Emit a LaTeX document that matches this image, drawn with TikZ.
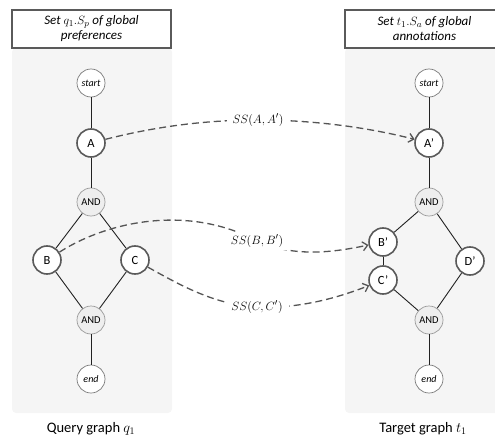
\documentclass[tikz,border=0pt]{standalone}
\usepackage{fontspec}
\setmainfont{Carlito}
\usetikzlibrary{arrows.meta}
\definecolor{panelfill}{HTML}{F5F5F5}
\definecolor{strongline}{HTML}{5A5A5A}
\definecolor{thinline}{HTML}{7A7A7A}
\definecolor{gatefill}{HTML}{EEEEEE}
\definecolor{gateline}{HTML}{9A9A9A}
\definecolor{linkcol}{HTML}{555555}
\definecolor{edgecol}{HTML}{222222}
\tikzset{
  panelbox/.style={fill=panelfill, rounded corners=4pt},
  headbox/.style={draw=strongline, fill=white, line width=1.5pt},
  headtext/.style={align=center, font=\itshape\fontsize{13}{15}\selectfont},
  actnode/.style={circle, draw=strongline, line width=1.6pt, fill=white, minimum size=28pt, inner sep=0pt, font=\fontsize{12.5}{14}\selectfont},
  termnode/.style={circle, draw=thinline, line width=0.7pt, fill=white, minimum size=28pt, inner sep=0pt, font=\itshape\fontsize{10}{12}\selectfont},
  gatenode/.style={circle, draw=gateline, line width=0.7pt, fill=gatefill, minimum size=28pt, inner sep=0pt, font=\fontsize{10.5}{12}\selectfont},
  edge/.style={draw=edgecol, line width=0.9pt},
  link/.style={draw=linkcol, line width=1.3pt, dash pattern=on 7pt off 4pt, -{Straight Barb[length=5pt,width=9pt]}},
  lbl/.style={fill=white, inner xsep=6pt, inner ysep=3pt, font=\fontsize{12.5}{14}\selectfont},
  caption/.style={font=\fontsize{14.5}{17}\selectfont}
}
\begin{document}
\begin{tikzpicture}[x=1pt,y=-1pt]
\useasboundingbox (0,0) rectangle (495,441);
% panels
\fill[panelbox] (12,48) rectangle (172,413);
\fill[panelbox] (345,48) rectangle (504,413);
\draw[headbox] (12,10) rectangle (171,48);
\draw[headbox] (345,10) rectangle (504,48);
\node[headtext] (hq) at (91.5,29) {Set $q_1.S_p$ of global\\preferences};
\node[headtext] (ht) at (424.5,29) {Set $t_1.S_a$ of global\\annotations};
% query graph
\node[termnode] (s1) at (91,83) {start};
\node[actnode] (a1) at (91,143) {A};
\node[gatenode] (g1) at (91,202) {AND};
\node[actnode] (b1) at (47,260) {B};
\node[actnode] (c1) at (135,260) {C};
\node[gatenode] (h1) at (91,320) {AND};
\node[termnode] (e1) at (91,379) {end};
\draw[edge] (s1) -- (a1);
\draw[edge] (a1) -- (g1);
\draw[edge] (g1) -- (b1);
\draw[edge] (g1) -- (c1);
\draw[edge] (b1) -- (h1);
\draw[edge] (c1) -- (h1);
\draw[edge] (h1) -- (e1);
% target graph
\node[termnode] (s2) at (429,83) {start};
\node[actnode] (a2) at (429,143) {A'};
\node[gatenode] (g2) at (429,202) {AND};
\node[actnode] (b2) at (383,242) {B'};
\node[actnode] (c2) at (383,280) {C'};
\node[actnode] (d2) at (470,261) {D'};
\node[gatenode] (h2) at (429,320) {AND};
\node[termnode] (e2) at (429,379) {end};
\draw[edge] (s2) -- (a2);
\draw[edge] (a2) -- (g2);
\draw[edge] (g2) -- (b2);
\draw[edge] (b2) -- (c2);
\draw[edge] (c2) -- (h2);
\draw[edge] (g2) -- (d2);
\draw[edge] (d2) -- (h2);
\draw[edge] (h2) -- (e2);
% similarity links
\coordinate (pa) at (258,120);
\coordinate (pb) at (257,241);
\coordinate (pc) at (257,307);
\draw[link] (a1) .. controls (150,128) and (200,120) .. (pa) .. controls (316,120) and (370,128) .. (a2);
\draw[link] (b1) .. controls (110,220) and (190,205) .. (pb) .. controls (295,258) and (335,252) .. (b2);
\draw[link] (c1) .. controls (180,285) and (215,305) .. (pc) .. controls (300,309) and (340,297) .. (c2);
\node[lbl] (la) at (pa) {$SS(A,A')$};
\node[lbl] (lb) at (pb) {$SS(B,B')$};
\node[lbl] (lc) at (pc) {$SS(C,C')$};
% captions
\node[caption] (cq) at (91,429) {Query graph $q_1$};
\node[caption] (ct) at (423,429) {Target graph $t_1$};
\end{tikzpicture}
\end{document}
